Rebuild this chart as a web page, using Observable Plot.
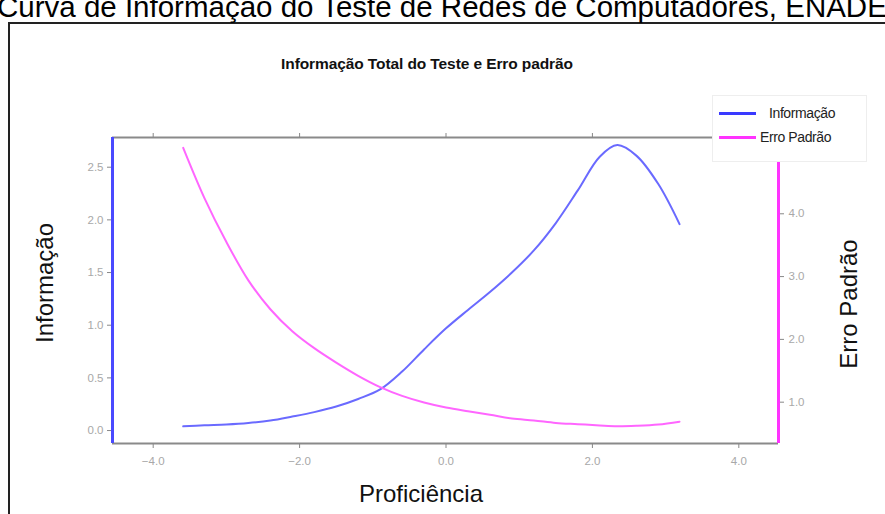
<!DOCTYPE html>
<html>
<head>
<meta charset="utf-8">
<script src="https://cdn.jsdelivr.net/npm/d3@7"></script>
<script src="https://cdn.jsdelivr.net/npm/@observablehq/plot@0.6"></script>
<style>
  html, body { margin: 0; padding: 0; background: #fff; overflow: hidden; }
  #wrap { position: relative; width: 885px; height: 514px; overflow: hidden; font-family: "Liberation Sans", Arial, sans-serif; }
  #wrap svg { position: absolute; left: 0; top: 0; }
  .abs { position: absolute; white-space: nowrap; }
  #maintitle { left: -3px; top: -8px; font-size: 29.5px; line-height: 29.5px; color: #000; }
  #frame { left: 8px; top: 22px; width: 1000px; height: 600px; border: 2px solid #222; box-sizing: border-box; }
  #subtitle { left: 427px; top: 64px; transform: translate(-50%, -50%); font-size: 15.5px; font-weight: bold; color: #111; letter-spacing: -0.1px; }
  .ylab { font-size: 24px; color: #111; transform: translate(-50%, -50%) rotate(-90deg); }
  #ylab-left { left: 45px; top: 283px; }
  #ylab-right { left: 849px; top: 304px; }
  #xlab { left: 421px; top: 494px; transform: translate(-50%, -50%); font-size: 24px; color: #111; }
  #legend { left: 712px; top: 95px; width: 155px; height: 67px; background: #fff; border: 1px solid #eee; box-sizing: border-box; }
  .lg-line { position: absolute; height: 3px; width: 37px; left: 6px; }
  .lg-text { position: absolute; font-size: 14px; line-height: 14px; color: #222; letter-spacing: -0.4px; }
</style>
</head>
<body>
<div id="wrap">
  <div id="chart"></div>
  <div class="abs" id="frame"></div>
  <div class="abs" id="maintitle">Curva de Informação do Teste de Redes de Computadores, ENADE</div>
  <div class="abs" id="subtitle">Informação Total do Teste e Erro padrão</div>
  <div class="abs ylab" id="ylab-left">Informação</div>
  <div class="abs ylab" id="ylab-right">Erro Padrão</div>
  <div class="abs" id="xlab">Proficiência</div>
  <div class="abs" id="legend">
    <div class="lg-line" style="top:16px; background:#3a3aff;"></div>
    <div class="lg-text" style="left:56px; top:10px;">Informação</div>
    <div class="lg-line" style="top:40px; background:#ff33ff;"></div>
    <div class="lg-text" style="left:47px; top:34px;">Erro Padrão</div>
  </div>
</div>
<script>
// ---- Data ----
const theta = [-3.59, -3.3, -3.0, -2.7, -2.4, -2.1, -1.8, -1.5, -1.2, -0.9, -0.6, -0.3, 0.0, 0.3, 0.6, 0.9, 1.2, 1.5, 1.8, 2.1, 2.34, 2.6, 2.9, 3.19];
const informacao = [0.04, 0.05, 0.058, 0.072, 0.095, 0.133, 0.175, 0.228, 0.30, 0.39, 0.56, 0.77, 0.97, 1.145, 1.315, 1.50, 1.71, 1.97, 2.28, 2.60, 2.71, 2.61, 2.34, 1.96];
const erroPadrao = [5.05, 4.25, 3.55, 2.94, 2.48, 2.13, 1.86, 1.63, 1.42, 1.24, 1.10, 0.995, 0.915, 0.855, 0.80, 0.74, 0.71, 0.67, 0.65, 0.63, 0.618, 0.625, 0.645, 0.69];

const xTicks = [-4, -2, 0, 2, 4];
const infoTicks = [0, 0.5, 1.0, 1.5, 2.0, 2.5];
const erroTicks = [1, 2, 3, 4];

const xDomain = [-4.556, 4.542];
const infoDomain = [-0.123, 2.782];
const erroDomain = [0.342, 5.215];

// map the right-hand (Erro Padrão) scale onto the left-hand y scale
const toInfo = d3.scaleLinear().domain(erroDomain).range(infoDomain);
const fmt = d3.format(".1f");
const idx = d3.range(theta.length);

const tickColor = "#888";
const labelColor = "#a8a8a8";

const chart = Plot.plot({
  width: 885,
  height: 514,
  marginTop: 137,
  marginBottom: 71,
  marginLeft: 112,
  marginRight: 107,
  style: { fontFamily: "Liberation Sans, Arial, sans-serif", background: "transparent" },
  x: { domain: xDomain },
  y: { domain: infoDomain },
  marks: [
    Plot.ruleY([infoDomain[0]], { stroke: "#8a8a8a", strokeWidth: 2 }),
    Plot.ruleY([infoDomain[1]], { stroke: "#8a8a8a", strokeWidth: 2 }),
    Plot.axisX({ anchor: "bottom", ticks: xTicks, tickFormat: fmt, tickSize: 5, tickPadding: 8, stroke: tickColor, fill: labelColor, fontSize: 11.5, label: null }),
    Plot.axisX({ anchor: "top", ticks: xTicks, tickFormat: () => "", tickSize: 5, stroke: tickColor, label: null }),
    Plot.axisY({ anchor: "left", ticks: infoTicks, tickFormat: fmt, tickSize: 5, tickPadding: 4, stroke: tickColor, fill: labelColor, fontSize: 11.5, label: null }),
    Plot.axisY({ anchor: "right", ticks: erroTicks.map(toInfo), tickFormat: v => fmt(toInfo.invert(v)), tickSize: 5, tickPadding: 5, stroke: tickColor, fill: labelColor, fontSize: 11.5, label: null }),
    Plot.ruleX([xDomain[0]], { stroke: "#4a4aff", strokeWidth: 3 }),
    Plot.ruleX([xDomain[1]], { stroke: "#ff33ff", strokeWidth: 3 }),
    Plot.line(idx, { x: i => theta[i], y: i => informacao[i], stroke: "#6a6aff", strokeWidth: 2, curve: "catmull-rom" }),
    Plot.line(idx, { x: i => theta[i], y: i => toInfo(erroPadrao[i]), stroke: "#ff66ff", strokeWidth: 2, curve: "catmull-rom" })
  ]
});
document.getElementById("chart").appendChild(chart);
</script>
</body>
</html>
